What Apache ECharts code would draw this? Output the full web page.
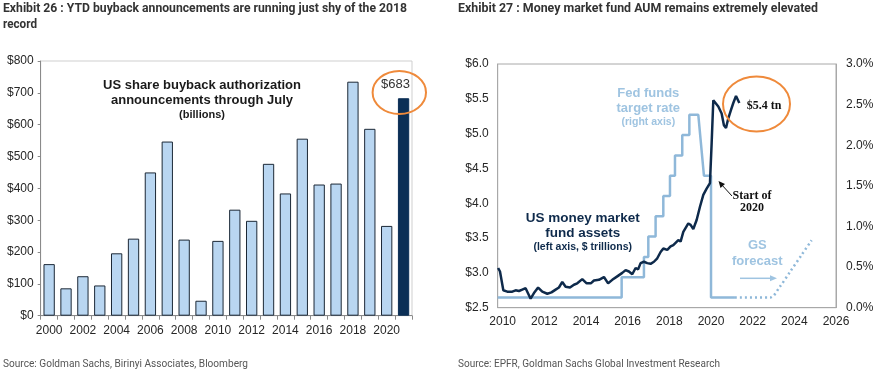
<!DOCTYPE html>
<html>
<head>
<meta charset="utf-8">
<script src="https://cdn.jsdelivr.net/npm/echarts@6/dist/echarts.min.js"></script>
<style>
html,body{margin:0;padding:0;background:#fff;}
#c{width:880px;height:373px;}
</style>
</head>
<body>
<div id="c"></div>
<script>
// ---- Exhibit 26 data ----
const years = ['2000','2001','2002','2003','2004','2005','2006','2007','2008','2009','2010','2011','2012','2013','2014','2015','2016','2017','2018','2019','2020','2021'];
const buybacks = [162, 86, 124, 95, 196, 242, 450, 547, 239, 47, 235, 333, 298, 477, 384, 556, 412, 415, 735, 587, 282, 683];
const highlightYear = '2021';

// ---- Exhibit 27 data ----
const mmfYears = [2009.78, 2009.87, 2010.03, 2010.22, 2010.46, 2010.62, 2010.78, 2010.94, 2011.10, 2011.26, 2011.34, 2011.50, 2011.70, 2011.90, 2012.14, 2012.34, 2012.54, 2012.70, 2012.86, 2013.02, 2013.23, 2013.42, 2013.58, 2013.82, 2014.03, 2014.23, 2014.38, 2014.62, 2014.86, 2015.06, 2015.26, 2015.50, 2015.74, 2015.90, 2016.06, 2016.22, 2016.38, 2016.50, 2016.62, 2016.78, 2016.94, 2017.10, 2017.26, 2017.42, 2017.58, 2017.71, 2017.90, 2018.06, 2018.19, 2018.43, 2018.54, 2018.67, 2018.91, 2019.02, 2019.15, 2019.31, 2019.47, 2019.63, 2019.79, 2019.95, 2020.03, 2020.11, 2020.19, 2020.35, 2020.51, 2020.62, 2020.72, 2020.83, 2020.96, 2021.07, 2021.20, 2021.28, 2021.36];
const mmfAssets = [3.07, 3.02, 2.75, 2.73, 2.73, 2.75, 2.74, 2.76, 2.78, 2.68, 2.63, 2.71, 2.79, 2.73, 2.70, 2.72, 2.76, 2.79, 2.87, 2.80, 2.79, 2.83, 2.85, 2.91, 2.85, 2.85, 2.89, 2.90, 2.94, 2.85, 2.90, 2.95, 3.00, 3.04, 3.02, 2.98, 3.07, 3.05, 3.14, 3.16, 3.14, 3.13, 3.16, 3.21, 3.30, 3.35, 3.33, 3.38, 3.40, 3.47, 3.45, 3.59, 3.71, 3.69, 3.63, 3.76, 3.95, 4.12, 4.21, 4.29, 4.86, 5.48, 5.49, 5.39, 5.29, 5.12, 5.08, 5.22, 5.34, 5.44, 5.54, 5.49, 5.44];
const fedYears = [2009.76, 2015.71, 2015.71, 2016.78, 2016.78, 2016.99, 2016.99, 2017.34, 2017.34, 2017.71, 2017.71, 2018.03, 2018.03, 2018.27, 2018.27, 2018.62, 2018.62, 2018.96, 2018.96, 2019.39, 2019.66, 2020.00, 2020.00, 2021.15];
const fedRates = [0.125, 0.125, 0.375, 0.375, 0.625, 0.625, 0.875, 0.875, 1.125, 1.125, 1.375, 1.375, 1.625, 1.625, 1.875, 1.875, 2.125, 2.125, 2.375, 2.375, 1.625, 1.625, 0.125, 0.125];
const fcYears = [2021.15, 2022.83, 2023.31, 2023.79, 2024.35, 2024.83];
const fcRates = [0.125, 0.125, 0.26, 0.44, 0.65, 0.83];
const xTickYears = [2010, 2012, 2014, 2016, 2018, 2020, 2022, 2024, 2026];

const SANS = '"Liberation Sans", Arial, sans-serif';
const COND = 'Roboto, "Noto Sans", sans-serif';
const SERIF = '"Liberation Serif", "Times New Roman", serif';
const NAVY = '#0e2a4b';
const LIGHT = '#8fb8d9';
const LIGHTTXT = '#9fc4e1';
const ORANGE = '#ef8a3b';

const zip = (a, b) => a.map((v, i) => [v, b[i]]);

const chart = echarts.init(document.getElementById('c'), null, {renderer: 'canvas'});

function txt(text, x, y, font, fill, align) {
  return {type: 'text', z: 50, style: {text: text, x: x, y: y, font: font, fill: fill,
    align: align || 'left', textAlign: align || 'left', verticalAlign: 'middle', textVerticalAlign: 'middle'}};
}
const mctx = document.createElement('canvas').getContext('2d');
// left-aligned text squeezed horizontally to a given width (condensed look)
function fitTxt(text, x, y, font, fill, width) {
  mctx.font = font;
  const w = mctx.measureText(text).width;
  const s = w > 0 ? width / w : 1;
  return {type: 'text', z: 50, x: x, y: y, scaleX: s, scaleY: 1, originX: 0, originY: 0,
    style: {text: text, x: 0, y: 0, font: font, fill: fill,
      align: 'left', textAlign: 'left', verticalAlign: 'middle', textVerticalAlign: 'middle'}};
}

const option = {
  animation: false,
  grid: [
    {left: 40.7, top: 61, width: 371.3, height: 254.7, show: true, borderColor: '#cfcfcf', borderWidth: 1},
    {left: 497.7, top: 64, width: 338.3, height: 243.7, show: true, borderColor: '#a8a8a8', borderWidth: 1}
  ],
  xAxis: [
    {gridIndex: 0, type: 'category', data: years, boundaryGap: true,
     axisLine: {show: true, lineStyle: {color: '#8a8a8a', width: 1}},
     axisTick: {show: true, interval: 0, length: 4, lineStyle: {color: '#8a8a8a'}},
     axisLabel: {interval: 1, margin: 9, fontSize: 12, fontFamily: SANS, color: '#262626'}},
    {gridIndex: 1, type: 'value', min: 2009.76, max: 2026,
     axisLine: {show: true, lineStyle: {color: '#a8a8a8', width: 1}},
     axisTick: {show: false},
     splitLine: {show: false},
     axisLabel: {customValues: xTickYears, margin: 8, fontSize: 12, fontFamily: SANS, color: '#262626',
                 formatter: v => String(Math.round(v))}}
  ],
  yAxis: [
    {gridIndex: 0, type: 'value', min: 0, max: 800, interval: 100,
     axisLine: {show: true, lineStyle: {color: '#8a8a8a'}},
     axisTick: {show: true, length: 3, lineStyle: {color: '#8a8a8a'}},
     splitLine: {show: false},
     axisLabel: {margin: 7, fontSize: 12, fontFamily: SANS, color: '#262626', formatter: v => '$' + v}},
    {gridIndex: 1, type: 'value', min: 2.5, max: 6.0, interval: 0.5, position: 'left',
     axisLine: {show: true, lineStyle: {color: '#a8a8a8'}},
     axisTick: {show: false}, splitLine: {show: false},
     axisLabel: {margin: 9, fontSize: 12, fontFamily: SANS, color: '#262626', formatter: v => '$' + v.toFixed(1)}},
    {gridIndex: 1, type: 'value', min: 0, max: 3.0, interval: 0.5, position: 'right',
     axisLine: {show: true, lineStyle: {color: '#a8a8a8'}},
     axisTick: {show: false}, splitLine: {show: false},
     axisLabel: {margin: 10, fontSize: 12, fontFamily: SANS, color: '#262626', formatter: v => v.toFixed(1) + '%'}}
  ],
  series: [
    {type: 'bar', xAxisIndex: 0, yAxisIndex: 0, barCategoryGap: '33%',
     itemStyle: {color: '#b9d6f1', borderColor: '#1c2836', borderWidth: 1},
     data: buybacks.map((v, i) => years[i] === highlightYear
       ? {value: v, itemStyle: {color: '#0b2f56', borderColor: '#0b2f56'}} : v)},
    {type: 'line', xAxisIndex: 1, yAxisIndex: 2, data: zip(fedYears, fedRates), showSymbol: false,
     lineStyle: {color: LIGHT, width: 2.5}, z: 2},
    {type: 'line', xAxisIndex: 1, yAxisIndex: 2, data: zip(fcYears, fcRates), showSymbol: false, smooth: 0.3,
     lineStyle: {color: LIGHT, width: 2.5, type: [2, 3]}, z: 2},
    {type: 'line', xAxisIndex: 1, yAxisIndex: 1, data: zip(mmfYears, mmfAssets), showSymbol: false,
     lineStyle: {color: NAVY, width: 2.5}, z: 3}
  ],
  graphic: [
    fitTxt('Exhibit 26 : YTD buyback announcements are running just shy of the 2018', 3, 9, 'bold 13.5px ' + COND, '#333', 404),
    fitTxt('record', 3, 25, 'bold 13.5px ' + COND, '#333', 34),
    fitTxt('Exhibit 27 : Money market fund AUM remains extremely elevated', 458, 9, 'bold 13.5px ' + COND, '#333', 360),
    fitTxt('Source: Goldman Sachs, Birinyi Associates, Bloomberg', 3, 364, '11px ' + COND, '#555', 245),
    fitTxt('Source: EPFR, Goldman Sachs Global Investment Research', 458, 364, '11px ' + COND, '#555', 262),
    // left chart annotations
    txt('US share buyback authorization', 202, 85, 'bold 13px ' + SANS, '#1a1a1a', 'center'),
    txt('announcements through July', 202, 100, 'bold 13px ' + SANS, '#1a1a1a', 'center'),
    txt('(billions)', 202, 114.5, 'bold 11px ' + SANS, '#1a1a1a', 'center'),
    txt('$683', 395.5, 84.5, '13px ' + SANS, '#333', 'center'),
    {type: 'ellipse', z: 50, shape: {cx: 399.3, cy: 92.5, rx: 26.7, ry: 21.5}, style: {fill: null, stroke: ORANGE, lineWidth: 2}},
    // right chart annotations
    txt('Fed funds', 648.3, 93.3, 'bold 13px ' + SANS, LIGHTTXT, 'center'),
    txt('target rate', 648.3, 108.3, 'bold 13px ' + SANS, LIGHTTXT, 'center'),
    txt('(right axis)', 648.3, 121.7, 'bold 10.5px ' + SANS, LIGHTTXT, 'center'),
    txt('US money market', 582.7, 218.3, 'bold 13.5px ' + SANS, NAVY, 'center'),
    txt('fund assets', 582.7, 233.3, 'bold 13.5px ' + SANS, NAVY, 'center'),
    txt('(left axis, $ trillions)', 582.7, 247.3, 'bold 10.5px ' + SANS, NAVY, 'center'),
    txt('GS', 757.3, 245, 'bold 13px ' + SANS, LIGHTTXT, 'center'),
    txt('forecast', 757.3, 261, 'bold 13px ' + SANS, LIGHTTXT, 'center'),
    {type: 'line', z: 50, shape: {x1: 740, y1: 278.3, x2: 772, y2: 278.3}, style: {stroke: LIGHTTXT, lineWidth: 1.5}},
    {type: 'polygon', z: 50, shape: {points: [[777, 278.3], [770, 275.3], [770, 281.3]]}, style: {fill: LIGHTTXT}},
    txt('Start of', 752, 195.5, 'bold 12px ' + SERIF, '#111', 'center'),
    txt('2020', 752, 207.5, 'bold 12px ' + SERIF, '#111', 'center'),
    {type: 'line', z: 50, shape: {x1: 732, y1: 196, x2: 721, y2: 184}, style: {stroke: '#111', lineWidth: 1}},
    {type: 'polygon', z: 50, shape: {points: [[718.5, 181], [725, 184], [720.5, 188]]}, style: {fill: '#111'}},
    txt('$5.4 tn', 764, 106, 'bold 12px ' + SERIF, '#111', 'center'),
    {type: 'ellipse', z: 50, shape: {cx: 756.5, cy: 104, rx: 33.5, ry: 27.5}, style: {fill: null, stroke: ORANGE, lineWidth: 2}}
  ]
};
chart.setOption(option);
</script>
</body>
</html>
